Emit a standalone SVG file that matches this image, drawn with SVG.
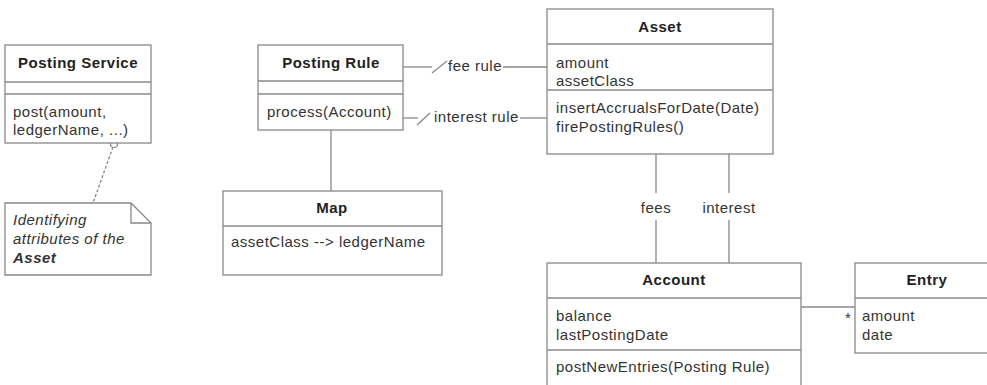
<svg xmlns="http://www.w3.org/2000/svg" width="987" height="385" viewBox="0 0 987 385">
<style>
.box{fill:#fff;stroke:#888;stroke-width:1.3}
.ln{stroke:#888;stroke-width:1.3;fill:none}
text{font-family:"Liberation Sans",Arial,sans-serif;font-size:15px;fill:#333;letter-spacing:0.5px}
.h{font-weight:bold;text-anchor:middle;fill:#222}
.c{text-anchor:middle}
.i{font-style:italic}
</style>
<rect width="987" height="385" fill="#fff"/>
<g id="connectors">
<line class="ln" x1="403" y1="67" x2="432" y2="67"/>
<line class="ln" x1="432" y1="73" x2="447" y2="61"/>
<line class="ln" x1="503" y1="67" x2="547" y2="67"/>
<text x="448" y="71">fee rule</text>
<line class="ln" x1="403" y1="118" x2="418" y2="118"/>
<line class="ln" x1="417" y1="125" x2="430" y2="113"/>
<line class="ln" x1="520" y1="118" x2="547" y2="118"/>
<text x="434" y="122">interest rule</text>
<line class="ln" x1="331" y1="130" x2="331" y2="191"/>
<line class="ln" x1="656" y1="154" x2="656" y2="193"/>
<line class="ln" x1="656" y1="220" x2="656" y2="263"/>
<text class="c" x="656" y="213">fees</text>
<line class="ln" x1="729" y1="154" x2="729" y2="193"/>
<line class="ln" x1="729" y1="220" x2="729" y2="263"/>
<text class="c" x="729" y="213">interest</text>
<line class="ln" x1="801" y1="307" x2="855" y2="307"/>
<text x="845" y="323">*</text>
<line class="ln" x1="113" y1="147" x2="93" y2="203" stroke-dasharray="3,2"/>
<circle cx="114" cy="144" r="3.5" fill="#fff" stroke="#888" stroke-width="1.2"/>
</g>
<g id="posting-service">
<rect class="box" x="5" y="45" width="146" height="98"/>
<line class="ln" x1="5" y1="82" x2="151" y2="82"/>
<line class="ln" x1="5" y1="94" x2="151" y2="94"/>
<text class="h" x="78" y="68">Posting Service</text>
<text x="13" y="117">post(amount,</text>
<text x="13" y="135">ledgerName, ...)</text>
</g>
<g id="note">
<path class="box" d="M5,203 H131 L151,223 V275 H5 Z"/>
<path class="ln" d="M131,203 V223 H151"/>
<text class="i" x="13" y="225">Identifying</text>
<text class="i" x="13" y="244">attributes of the</text>
<text class="i" x="13" y="263" font-weight="bold">Asset</text>
</g>
<g id="posting-rule">
<rect class="box" x="258" y="45" width="145" height="85"/>
<line class="ln" x1="258" y1="81" x2="403" y2="81"/>
<line class="ln" x1="258" y1="94" x2="403" y2="94"/>
<text class="h" x="331" y="68">Posting Rule</text>
<text x="267" y="117">process(Account)</text>
</g>
<g id="map">
<rect class="box" x="223" y="191" width="219" height="84"/>
<line class="ln" x1="223" y1="226" x2="442" y2="226"/>
<text class="h" x="332" y="213">Map</text>
<text x="231" y="247">assetClass --&gt; ledgerName</text>
</g>
<g id="asset">
<rect class="box" x="547" y="9" width="226" height="145"/>
<line class="ln" x1="547" y1="44" x2="773" y2="44"/>
<line class="ln" x1="547" y1="90" x2="773" y2="90"/>
<text class="h" x="660" y="32">Asset</text>
<text x="556" y="68">amount</text>
<text x="556" y="86">assetClass</text>
<text x="556" y="113">insertAccrualsForDate(Date)</text>
<text x="556" y="132">firePostingRules()</text>
</g>
<g id="account">
<rect class="box" x="547" y="263" width="254" height="130"/>
<line class="ln" x1="547" y1="298" x2="801" y2="298"/>
<line class="ln" x1="547" y1="350" x2="801" y2="350"/>
<text class="h" x="674" y="285">Account</text>
<text x="556" y="321">balance</text>
<text x="556" y="340">lastPostingDate</text>
<text x="556" y="372">postNewEntries(Posting Rule)</text>
</g>
<g id="entry">
<rect class="box" x="855" y="263" width="145" height="90"/>
<line class="ln" x1="855" y1="298" x2="1000" y2="298"/>
<text class="h" x="927" y="285">Entry</text>
<text x="862" y="321">amount</text>
<text x="862" y="340">date</text>
</g>
</svg>
